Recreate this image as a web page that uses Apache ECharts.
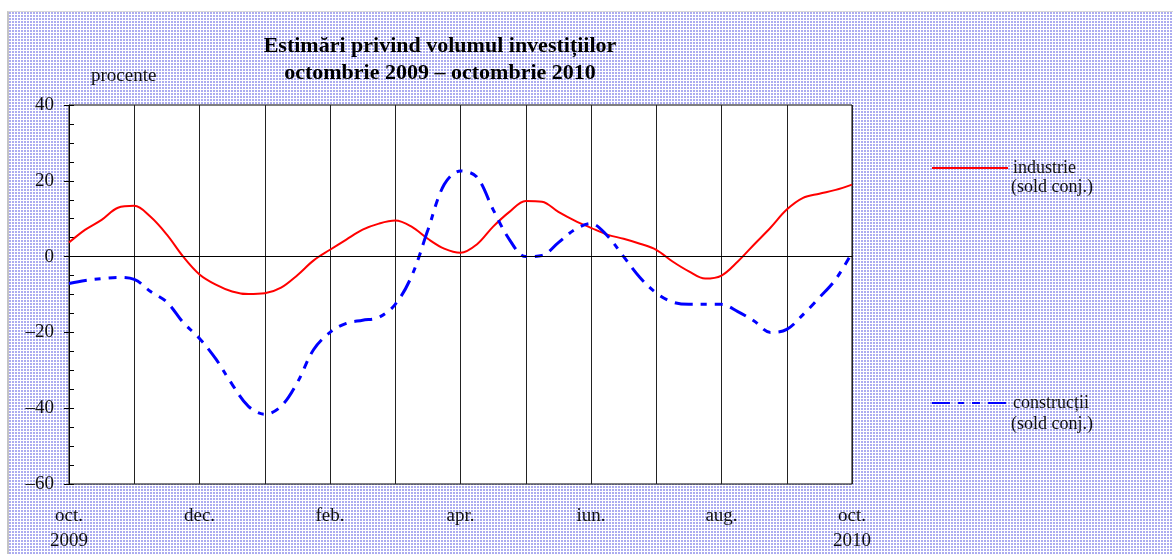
<!DOCTYPE html>
<html>
<head>
<meta charset="utf-8">
<script src="https://cdn.jsdelivr.net/npm/echarts@6/dist/echarts.min.js"></script>
<style>
html,body{margin:0;padding:0;background:#fff;}
#frame{position:absolute;left:7px;top:11px;width:1166px;height:543px;border-left:2px solid #c4c4c4;border-top:1px solid #d8d8d8;
background-color:#fff;
background-image:url("data:image/svg+xml;utf8,<svg xmlns='http://www.w3.org/2000/svg' width='3' height='3'><rect x='0' y='0' width='2' height='2' fill='%23acacf0'/></svg>");
background-size:3px 3px;}
#main{position:absolute;left:0;top:0;width:1173px;height:554px;}
</style>
</head>
<body>
<div id="frame"></div>
<div id="main"></div>
<script>
// luni (pas de un sfert de luna), oct. 2009 = 0
var xMonths = [0,0.25,0.5,0.75,1,1.25,1.5,1.75,2,2.25,2.5,2.75,3,3.25,3.5,3.75,4,4.25,4.5,4.75,5,5.25,5.5,5.75,6,
	6.25,6.5,6.75,7,7.25,7.5,7.75,8,8.25,8.5,8.75,9,9.25,9.5,9.75,10,10.25,10.5,10.75,11,11.25,11.5,11.75,12];
var industrie = [3.7,7.1,9.7,12.9,13.4,10.5,5.8,0,-4.7,-7.4,-9.2,-9.9,-9.7,-8.2,-4.9,-1.0,1.8,4.5,7.1,8.7,9.5,
	7.9,4.7,2.1,1.0,3.2,7.9,11.8,14.7,14.5,11.8,9.5,7.6,5.8,4.7,3.4,1.8,-1.3,-3.9,-5.8,-5.0,-1.3,3.2,7.6,12.4,
	15.5,16.6,17.6,19];
var constructii = [-7.1,-6.3,-5.8,-5.5,-6.0,-9.2,-12,-17.4,-21.6,-27,-33.7,-39.5,-41.6,-39.5,-33.2,-24.5,-20,
	-17.6,-16.8,-16,-12.6,-5.2,7,19,22.6,21,12.4,4.5,0,0.3,3.7,7.1,8.7,5.5,0,-5.5,-9.6,-12,-12.6,-12.6,-12.6,
	-14.5,-17,-20,-19.2,-15.3,-10.8,-6,1];
var xLabels = ['oct.\n2009','dec.','feb.','apr.','iun.','aug.','oct.\n2010'];
var serif = '"Liberation Serif","DejaVu Serif",serif';

function pairs(vals){
	var out = [];
	for(var i=0;i<vals.length;i++){ out.push([xMonths[i],vals[i]]); }
	return out;
}

var chart = echarts.init(document.getElementById('main'));
option = {
	backgroundColor: 'transparent',
	animation: false,
	textStyle: {fontFamily: serif, color: '#111'},
	title: {
		text: 'Estimări privind volumul investițiilor\noctombrie 2009 – octombrie 2010',
		left: 435, top: 28, textAlign: 'center',
		textStyle: {fontFamily: serif, fontWeight: 'bold', fontSize: 22, lineHeight: 27, color: '#000'}
	},
	graphic: [
		{type:'text', left: 91, top: 67, style:{text:'procente', font:'19px '+serif, fill:'#111'}},
		{type:'text', left: 1011, top: 178, style:{text:'(sold conj.)', font:'18px '+serif, fill:'#111'}},
		{type:'text', left: 1011, top: 415, style:{text:'(sold conj.)', font:'18px '+serif, fill:'#111'}}
	],
	legend: [{
		data: ['industrie'], left: 926, top: 154, itemWidth: 76, itemHeight: 20, itemGap: 4,
		itemStyle: {opacity: 0},
		textStyle: {fontFamily: serif, fontSize: 18, color: '#111'}
	},{
		data: ['construcții'], left: 926, top: 389, itemWidth: 76, itemHeight: 20, itemGap: 4,
		itemStyle: {opacity: 0},
		textStyle: {fontFamily: serif, fontSize: 18, color: '#111'}
	}],
	grid: {left: 69, right: 321, top: 105, bottom: 69, show: true, backgroundColor: '#fff', borderColor: '#000', borderWidth: 1},
	xAxis: {
		type: 'value', min: 0, max: 12, interval: 1,
		axisLine: {show: true, lineStyle: {color: '#000'}},
		axisTick: {show: false},
		splitLine: {show: true, lineStyle: {color: '#222', width: 1}},
		axisLabel: {
			margin: 20, fontSize: 19, lineHeight: 25, color: '#111', fontFamily: serif,
			formatter: function(v){ return v % 2 == 0 ? xLabels[v/2] : ''; }
		}
	},
	yAxis: [{
		type: 'value', min: -60, max: 40, interval: 20,
		axisLine: {show: true, lineStyle: {color: '#000'}},
		axisTick: {show: true, inside: true, length: 5, lineStyle: {color: '#000'}},
		minorTick: {show: true, splitNumber: 4, length: 5, lineStyle: {color: '#000'}},
		splitLine: {show: false},
		axisLabel: {
			margin: 15, fontSize: 19, color: '#111', fontFamily: serif,
			formatter: function(v){ return v < 0 ? '–' + (-v) : '' + v; }
		}
	},{
		type: 'value', min: -60, max: 40, interval: 20, position: 'left',
		axisLine: {show: false}, axisLabel: {show: false}, splitLine: {show: false},
		axisTick: {show: true, length: 5, lineStyle: {color: '#000'}}
	}],
	series: [{
		name: 'industrie', type: 'line', data: pairs(industrie), smooth: 0.35,
		symbol: 'none', lineStyle: {color: '#ff0000', width: 2}, itemStyle: {color: '#ff0000'},
		markLine: {
			silent: true, symbol: 'none', label: {show: false},
			lineStyle: {color: '#000', width: 1, type: 'solid'},
			data: [{yAxis: 0}]
		}
	},{
		name: 'construcții', type: 'line', data: pairs(constructii), smooth: 0.35,
		symbol: 'none', lineStyle: {color: '#0000ff', width: 3, type: [18,8,6,8,8,8]}, itemStyle: {color: '#0000ff'}
	}]
};
chart.setOption(option);
</script>
</body>
</html>
